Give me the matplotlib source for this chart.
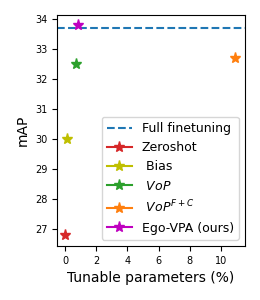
import matplotlib
matplotlib.use("Agg")
import matplotlib.pyplot as plt

# Parâmetros ajustáveis (%) e mAP de cada método
metodos = ["Zeroshot", " Bias", r" $VoP$", r" $VoP^{F+C}$", "Ego-VPA (ours)"]
params = [0.0, 0.1, 0.7, 10.9, 0.8]
mAP = [26.8, 30.0, 32.5, 32.7, 33.8]
cores = ["tab:red", "y", "tab:green", "tab:orange", "m"]
full_ft = 33.7

fig, ax = plt.subplots(figsize=(2.6, 3.0), dpi=100)
ax.axhline(full_ft, ls="--", color="tab:blue", label="Full finetuning")
for nome, x, y, c in zip(metodos, params, mAP, cores):
    ax.plot([x], [y], "-*", color=c, markersize=8, label=nome)

ax.set_xlim(-0.51, 11.54)
ax.set_ylim(26.43, 34.13)
ax.set_xticks([0, 2, 4, 6, 8, 10])
ax.set_yticks([27, 28, 29, 30, 31, 32, 33, 34])
ax.tick_params(labelsize=7)
ax.set_xlabel("Tunable parameters (%)", fontsize=10)
ax.set_ylabel("mAP", fontsize=10)
ax.legend(fontsize=9, loc="lower right")
fig.subplots_adjust(left=0.22, right=0.942, top=0.95, bottom=0.18)
fig.savefig("out.png")
